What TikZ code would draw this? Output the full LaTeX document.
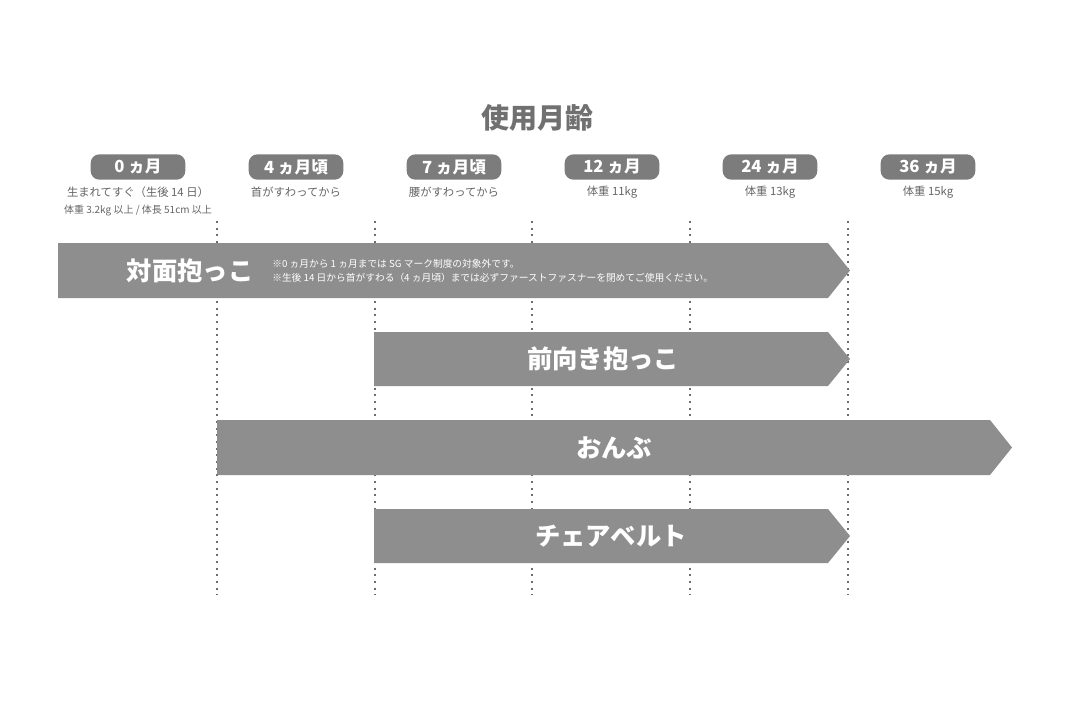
\documentclass[tikz,border=0pt]{standalone}
\usepackage{fontspec}
\setmainfont{Noto Sans CJK JP}
\begin{document}
\begin{tikzpicture}[x=0.75pt,y=-0.75pt,
  pill/.style={fill=pillgray,text=white,rounded corners=6.5pt,minimum width=71pt,minimum height=19pt,inner sep=0pt,font=\fontsize{12.5}{14}\selectfont\bfseries},
  sub/.style={text=subgray,font=\fontsize{8.5}{10}\selectfont,inner sep=0pt,align=center},
  bar/.style={fill=bargray,draw=none},
  bartext/.style={text=white,font=\fontsize{19}{22}\selectfont\bfseries,inner sep=0pt},
  dots/.style={draw=dotgray,line width=1.6pt,dash pattern=on 1.6pt off 3.4pt}]
\definecolor{pillgray}{HTML}{7C7C7C}
\definecolor{bargray}{HTML}{8E8E8E}
\definecolor{subgray}{HTML}{666666}
\definecolor{dotgray}{HTML}{6E6E6E}
\definecolor{titlegray}{HTML}{707070}
\useasboundingbox[fill=white] (0,0) rectangle (1080,710);
\node[text=titlegray,font=\fontsize{21}{24}\selectfont\bfseries] (title) at (537,118) {使用月齢};
\node[pill] (p0) at (138,167) {0 ヵ月};
\node[pill] (p1) at (296,167) {4 ヵ月頃};
\node[pill] (p2) at (454,167) {7 ヵ月頃};
\node[pill] (p3) at (612,167) {12 ヵ月};
\node[pill] (p4) at (770,167) {24 ヵ月};
\node[pill] (p5) at (928,167) {36 ヵ月};
\node[sub] (s0) at (138,192) {生まれてすぐ（生後 14 日）};
\node[sub,font=\fontsize{7.5}{9}\selectfont] (s0b) at (138,211) {体重 3.2kg 以上 / 体長 51cm 以上};
\node[sub] (s1) at (296,192) {首がすわってから};
\node[sub] (s2) at (454,192) {腰がすわってから};
\node[sub] (s3) at (612,192) {体重 11kg};
\node[sub] (s4) at (770,192) {体重 13kg};
\node[sub] (s5) at (928,192) {体重 15kg};
\foreach \x/\n in {217/a,375/b,532/c,690/d,848/e}{
  \coordinate (t\n) at (\x,221);
  \coordinate (b\n) at (\x,595);
  \draw[dots] (t\n) -- (b\n);
}
\fill[bar] (58,243) -- (828,243) -- (850,270.5) -- (828,298) -- (58,298) -- cycle;
\fill[bar] (374,332) -- (828,332) -- (850,359) -- (828,386) -- (374,386) -- cycle;
\fill[bar] (217,420) -- (990,420) -- (1012,447.5) -- (990,475) -- (217,475) -- cycle;
\fill[bar] (374,509) -- (828,509) -- (850,536) -- (828,563) -- (374,563) -- cycle;
\node[bartext] (l1) at (190,271) {対面抱っこ};
\node[text=white,font=\fontsize{7.3}{10.5}\selectfont,inner sep=0pt,align=left,anchor=west] (n1) at (272,271) {※0 ヵ月から 1 ヵ月までは SG マーク制度の対象外です。\\※生後 14 日から首がすわる（4 ヵ月頃）までは必ずファーストファスナーを閉めてご使用ください。};
\node[bartext] (l2) at (603,359) {前向き抱っこ};
\node[bartext] (l3) at (614,448) {おんぶ};
\node[bartext] (l4) at (611,536) {チェアベルト};
\end{tikzpicture}
\end{document}
